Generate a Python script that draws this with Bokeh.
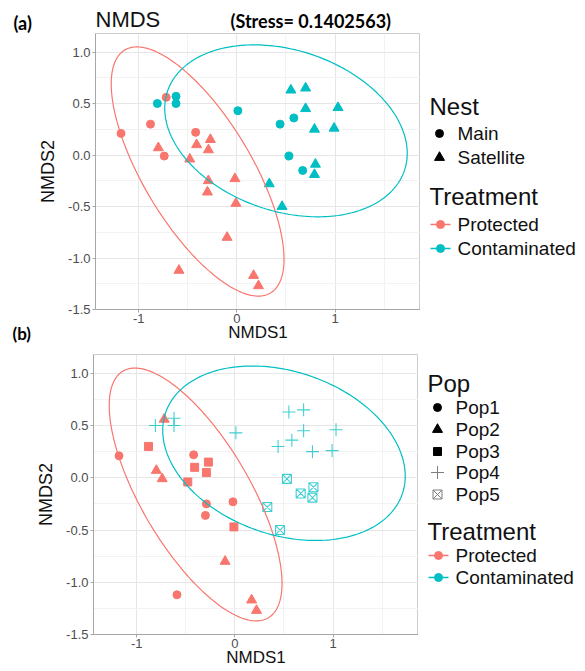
import numpy as np
from bokeh.plotting import figure
from bokeh.layouts import column, row
from bokeh.models import Range1d, FixedTicker, NumeralTickFormatter, ColumnDataSource
from bokeh.core.properties import value
from bokeh.embed import file_html
from bokeh.resources import INLINE

RED = "#F8766D"
CYAN = "#00BFC4"

# ---- data ----
nmds1 = [-1.18, -0.88, -0.72, -0.80, -0.74, -0.42, -0.41, -0.27, -0.29, -0.48,
         -0.29, -0.30, -0.02, -0.01, -0.10, -0.59, 0.17, 0.22,
         -0.81, -0.62, -0.62, 0.01, 0.44, 0.58, 0.53, 0.67, 0.55, 0.70,
         0.70, 1.03, 0.79, 0.99, 0.80, 0.79, 0.33, 0.46]
nmds2 = [0.21, 0.30, 0.56, 0.07, -0.01, 0.22, 0.10, 0.15, 0.05, -0.04,
         -0.25, -0.36, -0.23, -0.47, -0.80, -1.12, -1.17, -1.27,
         0.50, 0.57, 0.50, 0.43, 0.30, 0.36, -0.01, -0.15, 0.63, 0.65,
         0.45, 0.46, 0.25, 0.26, -0.09, -0.19, -0.28, -0.50]
treatment = ["Protected"] * 18 + ["Contaminated"] * 18
nest = ["Main", "Main", "Main", "Satellite", "Main", "Main", "Satellite", "Satellite",
        "Satellite", "Satellite", "Satellite", "Satellite", "Satellite", "Satellite",
        "Satellite", "Satellite", "Satellite", "Satellite",
        "Main", "Main", "Main", "Main", "Main", "Main", "Main", "Main",
        "Satellite", "Satellite", "Satellite", "Satellite", "Satellite", "Satellite",
        "Satellite", "Satellite", "Satellite", "Satellite"]
pop = ["Pop1", "Pop3", "Pop2", "Pop2", "Pop2", "Pop1", "Pop3", "Pop3", "Pop3", "Pop3",
       "Pop1", "Pop1", "Pop1", "Pop3", "Pop2", "Pop1", "Pop2", "Pop2",
       "Pop4", "Pop4", "Pop4", "Pop4", "Pop4", "Pop4", "Pop5", "Pop5", "Pop4", "Pop4",
       "Pop4", "Pop4", "Pop4", "Pop4", "Pop5", "Pop5", "Pop5", "Pop5"]

# ellipse (stat_ellipse) parameters: centre and covariance-like matrix
ellipse_centres = {"Protected": (-0.40, -0.16), "Contaminated": (0.50, 0.235)}
ellipse_cov = {"Protected": [[0.774, -0.748], [-0.748, 1.464]],
               "Contaminated": [[1.525, -0.27], [-0.27, 0.697]]}

x_ticks = [-1, 0, 1]
y_ticks = [-1.5, -1.0, -0.5, 0.0, 0.5, 1.0]
panel_labels = ["(a)", "(b)"]
plot_title = "NMDS"
stress_text = "(Stress= 0.1402563)"

TCOL = {"Protected": RED, "Contaminated": CYAN}
FONT = "Liberation Sans"

nest_marker = {"Main": "circle", "Satellite": "triangle"}
nest_size = {"Main": 8, "Satellite": 10}
pop_marker = {"Pop1": "circle", "Pop2": "triangle", "Pop3": "square", "Pop4": "cross", "Pop5": "square_x"}
pop_size = {"Pop1": 8, "Pop2": 10, "Pop3": 8, "Pop4": 13, "Pop5": 9}
pop_filled = {"Pop1": True, "Pop2": True, "Pop3": True, "Pop4": False, "Pop5": False}

FRAME_A = 276
FRAME_B = 280


def blank(width, height):
    f = figure(frame_width=width, frame_height=height, title=None,
               x_range=Range1d(0, width), y_range=Range1d(height, 0),
               min_border=0, toolbar_location=None, output_backend="svg",
               x_axis_location=None, y_axis_location=None)
    f.grid.visible = False
    f.outline_line_color = None
    return f


def make_panel(markers, sizes, filled, frame_h, left_border, top_border):
    p = figure(frame_width=325, frame_height=frame_h, title=None,
               x_range=Range1d(-1.44, 1.87), y_range=Range1d(-1.5, 1.18),
               min_border_left=left_border, min_border_right=0, min_border_top=top_border,
               min_border_bottom=0, toolbar_location=None, output_backend="svg")
    p.background_fill_color = "white"
    p.outline_line_color = "#CCCCCC"
    p.xaxis.ticker = FixedTicker(ticks=x_ticks, minor_ticks=[-1.5, -0.5, 0.5, 1.5])
    p.yaxis.ticker = FixedTicker(ticks=y_ticks, minor_ticks=[-1.25, -0.75, -0.25, 0.25, 0.75])
    p.xaxis.formatter = NumeralTickFormatter(format="0")
    p.yaxis.formatter = NumeralTickFormatter(format="0.0")
    for g in (p.xgrid, p.ygrid):
        g.grid_line_color = "#E6E6E6"
        g.minor_grid_line_color = "#F2F2F2"
    for ax in (p.xaxis, p.yaxis):
        ax.axis_line_color = "#A6A6A6"
        ax.major_tick_line_color = "#A6A6A6"
        ax.major_tick_out = 3
        ax.major_tick_in = 0
        ax.minor_tick_line_color = None
        ax.major_label_text_font = FONT
        ax.major_label_text_font_size = "13px"
        ax.major_label_text_color = "#4D4D4D"
        ax.major_label_standoff = 1
        ax.axis_label_text_font = FONT
        ax.axis_label_text_font_style = "normal"
        ax.axis_label_text_color = "#111111"
    p.xaxis.axis_label = "NMDS1"
    p.xaxis.axis_label_text_font_size = "17px"
    p.xaxis.axis_label_standoff = -3
    p.xaxis.major_label_standoff = 0
    p.yaxis.axis_label = "NMDS2"
    p.yaxis.axis_label_text_font_size = "18px"
    p.yaxis.axis_label_standoff = 7

    src = ColumnDataSource(dict(
        x=nmds1, y=nmds2, marker=markers, size=sizes,
        line_color=[TCOL[t] for t in treatment],
        fill_color=[TCOL[t] for t in treatment],
        fill_alpha=[1.0 if f else 0.0 for f in filled],
        line_alpha=[1.0 if f else 0.75 for f in filled],
        line_width=[1.0 if f else 1.1 for f in filled],
    ))
    p.scatter("x", "y", marker="marker", size="size", source=src,
              line_color="line_color", fill_color="fill_color",
              fill_alpha="fill_alpha", line_alpha="line_alpha", line_width="line_width")

    t = np.linspace(0, 2 * np.pi, 240)
    for name in ["Protected", "Contaminated"]:
        cx, cy = ellipse_centres[name]
        L = np.linalg.cholesky(np.array(ellipse_cov[name]))
        pts = L @ np.vstack([np.cos(t), np.sin(t)])
        p.line(cx + pts[0], cy + pts[1], line_color=TCOL[name], line_width=1.2)
    return p


def make_legend(height, group_title, items, item_y, title_y, treat_title_y, treat_y):
    lg = blank(167, height)
    lg.text([9, 9], [title_y, treat_title_y], text=[group_title, "Treatment"],
            text_font=value(FONT), text_font_size="24px", text_baseline="middle",
            text_color="#111111")
    labels = [it[0] for it in items]
    lg.text([37] * len(items), item_y, text=labels, text_font=value(FONT),
            text_font_size="19px", text_baseline="middle", text_color="#111111")
    for (lab, mk, sz, filled), yy in zip(items, item_y):
        if filled:
            lg.scatter([19], [yy], marker=mk, size=sz, fill_color="black", line_color="black")
        else:
            lg.scatter([19], [yy], marker=mk, size=sz, fill_alpha=0, line_color="#7F7F7F",
                       line_width=1)
    tnames = ["Protected", "Contaminated"]
    lg.text([37, 37], treat_y, text=tnames, text_font=value(FONT),
            text_font_size="19px", text_baseline="middle", text_color="#111111")
    for nm, yy in zip(tnames, treat_y):
        lg.line([10, 30], [yy, yy], line_color=TCOL[nm], line_width=1.3)
        lg.scatter([20], [yy], marker="circle", size=8, fill_color=TCOL[nm], line_color=TCOL[nm])
    return lg


# title strip for panel (a)
title_strip = blank(585, 33)
title_strip.text([13], [22.5], text=[panel_labels[0]], text_font=value("Lato"),
                 text_font_style="bold", text_font_size="18px", text_baseline="middle",
                 text_color="black")
title_strip.text([95], [18.5], text=[plot_title], text_font=value(FONT),
                 text_font_size="22px", text_baseline="middle", text_color="#111111")
title_strip.text([230], [20], text=[stress_text], text_font=value("Lato"),
                 text_font_style="bold", text_font_size="18px", text_baseline="middle",
                 text_color="black")

pA = make_panel([nest_marker[n] for n in nest], [nest_size[n] for n in nest],
                [True] * len(nest), FRAME_A, 58, 0)
pB = make_panel([pop_marker[q] for q in pop], [pop_size[q] for q in pop],
                [pop_filled[q] for q in pop], FRAME_B, 93, 10)

# left strip beside panel (a) carrying the "(b)" label
left_strip = blank(35, 310)
left_strip.text([12], [300], text=[panel_labels[1]], text_font=value("Lato"),
                text_font_style="bold", text_font_size="17px", text_baseline="middle",
                text_color="black")

legA = make_legend(FRAME_A, "Nest",
                   [("Main", "circle", 8, True), ("Satellite", "triangle", 10, True)],
                   [100, 124], 73, 163, [191, 215])
legB = make_legend(FRAME_B, "Pop",
                   [("Pop1", "circle", 8, True), ("Pop2", "triangle", 10, True),
                    ("Pop3", "square", 8, True), ("Pop4", "cross", 13, False),
                    ("Pop5", "square_x", 9, False)],
                   [53, 75, 97, 118, 140], 29, 177, [201, 223])

layout = column(title_strip, row(left_strip, pA, legA), row(pB, legB))
open("out.html", "w").write(file_html(layout, INLINE))
